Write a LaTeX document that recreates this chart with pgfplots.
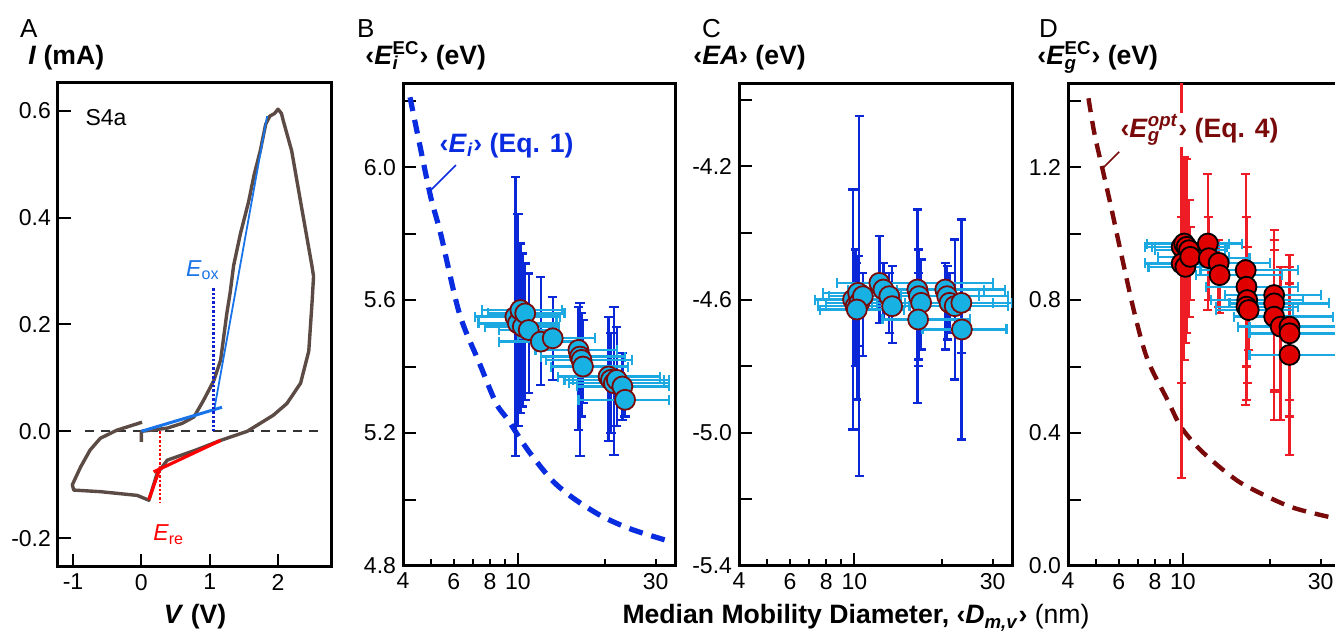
\documentclass[border=0pt]{standalone}
\usepackage{pgfplots}
\pgfplotsset{compat=1.18}
\usepackage{pgfplotstable}
\usepackage{fontspec}
\setmainfont{Liberation Sans}

\definecolor{cvbrown}{HTML}{5C4A44}
\definecolor{tanblue}{HTML}{1874E8}
\definecolor{dotblue}{HTML}{1020D0}
\definecolor{eblue}{HTML}{0A28D8}
\definecolor{ecyan}{HTML}{1CA8E0}
\definecolor{mcyan}{HTML}{17B2E3}
\definecolor{mred}{HTML}{E00000}
\definecolor{ered}{HTML}{EE1C24}
\definecolor{dred}{HTML}{7A0A0A}
\definecolor{curveblue}{HTML}{0A2CE0}

\newcommand{\tl}{\fontsize{11.5}{13}\selectfont}
\newcommand{\ttl}{\fontsize{13.3}{15}\selectfont\bfseries}
\newcommand{\supsub}[2]{\rlap{\textsubscript{#2}}\textsuperscript{#1}}

% D = median mobility diameter (nm); xm/xp, ym/yp = error minus/plus
\pgfplotstableread{
x y xm xp ym yp
9.8 5.55 2.7 4.2 0.42 0.42
10.0 5.53 2.7 3.6 0.31 0.33
10.2 5.57 2.7 4.0 0.31 0.20
10.4 5.52 2.7 3.5 0.24 0.22
10.6 5.56 2.7 3.9 0.26 0.15
10.9 5.51 2.3 2.3 0.19 0.17
12.0 5.475 3.4 4.0 0.13 0.195
13.2 5.485 3.2 5.3 0.125 0.125
16.2 5.45 4.7 5.8 0.24 0.13
16.4 5.43 4.4 7.1 0.30 0.16
16.6 5.42 4.1 8.2 0.17 0.14
16.8 5.40 3.8 7.2 0.11 0.14
20.6 5.37 6.8 10.4 0.195 0.18
21.0 5.36 6.5 11.0 0.16 0.14
21.5 5.35 6.5 11.8 0.215 0.23
22.0 5.36 6.5 11.3 0.14 0.16
23.0 5.34 7.0 10.3 0.10 0.10
23.5 5.30 7.3 9.8 0.05 0.06
}\tabB

\pgfplotstableread{
x y xm xp ym yp
9.9 -4.60 2.6 4.1 0.39 0.33
10.1 -4.62 2.6 4.4 0.18 0.17
10.3 -4.58 2.5 5.2 0.16 0.11
10.4 -4.61 2.4 4.6 0.52 0.56
10.7 -4.59 2.5 5.3 0.18 0.07
10.2 -4.63 2.6 4.6 0.27 0.14
12.2 -4.55 3.5 17.8 0.12 0.14
12.6 -4.57 3.1 7.4 0.09 0.08
13.2 -4.59 3.2 8.8 0.11 0.07
13.5 -4.62 2.0 11.5 0.11 0.12
16.5 -4.57 5.5 11.5 0.34 0.24
16.7 -4.59 5.2 10.3 0.19 0.14
17.0 -4.61 5.0 13.0 0.14 0.13
16.6 -4.66 4.1 8.4 0.14 0.14
20.6 -4.57 6.6 12.4 0.18 0.08
20.9 -4.59 6.4 13.1 0.13 0.09
21.3 -4.61 6.3 13.7 0.09 0.09
22.2 -4.62 6.7 11.8 0.22 0.20
23.4 -4.61 6.4 11.6 0.41 0.25
23.5 -4.69 6.3 10.0 0.07 0.07
}\tabC

\pgfplotstableread{
x y xm xp ym yp
9.9 0.96 2.5 4.1 0.695 0.64
10.1 0.97 2.6 4.3 0.35 0.26
10.3 0.96 2.5 3.9 0.26 0.265
10.5 0.95 2.5 3.5 0.20 0.15
9.9 0.91 2.5 3.6 0.36 0.14
10.2 0.90 2.6 3.6 0.23 0.10
10.6 0.93 2.4 3.8 0.13 0.09
12.2 0.97 2.6 3.8 0.20 0.21
12.3 0.926 2.5 4.7 0.126 0.124
13.3 0.912 2.3 6.7 0.132 0.068
13.4 0.875 2.3 8.6 0.115 0.045
16.5 0.89 5.0 8.5 0.406 0.29
16.6 0.84 4.6 8.4 0.34 0.21
16.7 0.80 4.2 9.3 0.25 0.16
16.6 0.78 3.6 8.4 0.18 0.14
16.9 0.77 3.9 7.1 0.12 0.13
20.7 0.815 6.7 9.3 0.375 0.195
20.7 0.79 6.2 11.3 0.26 0.19
20.7 0.75 5.7 12.3 0.226 0.20
21.8 0.72 6.3 12.2 0.28 0.18
23.4 0.72 6.4 11.6 0.22 0.215
23.4 0.70 6.4 11.6 0.25 0.15
23.4 0.635 6.4 11.6 0.301 0.265
}\tabD

\pgfplotsset{
  panel/.style={
    scale only axis, anchor=south west,
    axis line style={line width=1.5pt},
    every tick/.style={black, line width=1pt},
    major tick length=6.5pt, minor tick length=6.5pt,
    tick align=inside, xtick pos=bottom, ytick pos=left,
    tick label style={font=\tl},
    /pgf/number format/assume math mode=true,
    yticklabel style={/pgf/number format/fixed, /pgf/number format/zerofill,
      /pgf/number format/precision=1},
  },
  logpanel/.style={
    panel, width=136pt, height=241pt,
    xmin=4, xmax=35, xminorticks=false,
    xtick={10}, xticklabels={10},
    extra x ticks={4,5,6,7,8,9,20,30},
    extra x tick labels={4,,6,,8,,,30},
    extra x tick style={major tick length=3.5pt},
  },
  ybars/.style={draw=none, forget plot, error bars/.cd, y dir=both, y explicit,
    error mark=|, error bar style={#1, line width=1.2pt},
    error mark options={#1, line width=1.1pt, mark size=2.3pt}},
  xbars/.style={draw=none, forget plot, error bars/.cd, x dir=both, x explicit,
    error mark=|, error bar style={ecyan, line width=1.2pt},
    error mark options={ecyan, line width=1.1pt, mark size=2.5pt}},
}

\begin{document}
\begin{tikzpicture}

% ---------------- A
\begin{axis}[panel, at={(29pt,35pt)}, width=137pt, height=242pt,
  xmin=-1.22, xmax=2.79, ymin=-0.254, ymax=0.652,
  xtick={-1,0,1,2}, ytick={-0.2,0,0.2,0.4,0.6}]
\addplot[black!80, line width=1pt, dash pattern=on 4.5pt off 3.5pt] coordinates {(-0.82,0) (2.6,0)};
\addplot[cvbrown, line width=1.7pt, line join=round] coordinates {
(0.0,-0.02) (0.0,0.0) (0.2,0.003) (0.38,0.006) (0.6,0.015) (0.77,0.027)
(0.91,0.058) (1.0,0.08) (1.06,0.095) (1.16,0.133) (1.25,0.22) (1.3,0.26)
(1.35,0.31) (1.45,0.37) (1.57,0.43) (1.65,0.48) (1.74,0.525) (1.82,0.575)
(1.88,0.59) (1.95,0.595) (2.0,0.603) (2.05,0.595) (2.08,0.58) (2.2,0.525)
(2.33,0.43) (2.5,0.307) (2.52,0.29) (2.5,0.245) (2.45,0.15) (2.33,0.09)
(2.13,0.052) (1.93,0.03) (1.55,0.0) (1.16,-0.017) (0.8,-0.035) (0.38,-0.054)
(0.23,-0.079) (0.11,-0.129) (-0.06,-0.12) (-0.6,-0.113) (-0.99,-0.11)
(-1.01,-0.10) (-0.89,-0.067) (-0.75,-0.035) (-0.6,-0.013) (-0.36,0.002) (0.01,0.017)};
\addplot[tanblue, line width=1.5pt] coordinates {(0,0) (1.18,0.045)};
\addplot[tanblue, line width=0.9pt] coordinates {(1.06,0.036) (1.84,0.59)};
\addplot[dotblue, line width=1.3pt, dash pattern=on 1.2pt off 1pt] coordinates {(1.06,0) (1.06,0.27)};
\addplot[red, line width=1.6pt] coordinates {(0.11,-0.128) (0.28,-0.066)};
\addplot[red, line width=1.6pt] coordinates {(0.18,-0.076) (1.16,-0.017)};
\addplot[red, line width=1.3pt, dash pattern=on 1.2pt off 1pt] coordinates {(0.27,0) (0.27,-0.135)};
\node[anchor=west, font=\tl] at (axis cs:-0.92,0.587) {S4a};
\node[anchor=base, font=\tl, text=tanblue] at (axis cs:0.9,0.29) {\textit{E}\textsubscript{ox}};
\node[anchor=base, font=\tl, text=red] at (axis cs:0.4,-0.205) {\textit{E}\textsubscript{re}};
\end{axis}

% ---------------- B
\begin{semilogxaxis}[logpanel, at={(201.5pt,35.5pt)},
  ymin=4.8, ymax=6.25, ytick={4.8,5.2,5.6,6.0}, minor ytick={5.0,5.4,5.8,6.2}]
\addplot[curveblue, line width=2.6pt, smooth, dash pattern=on 7pt off 4.5pt] coordinates {
(4.23,6.21) (4.49,6.10) (4.99,5.91) (5.40,5.80) (6.27,5.56) (7.36,5.41) (8.40,5.29)
(9.23,5.24) (10.8,5.15) (13.06,5.06) (15.5,5.005) (19.5,4.95) (24.8,4.91) (33.3,4.875)};
\addplot[ybars=eblue] table[x=x, y=y, y error minus=ym, y error plus=yp] {\tabB};
\addplot[xbars] table[x=x, y=y, x error minus=xm, x error plus=xp] {\tabB};
\addplot[only marks, mark=*, mark size=5pt, mark options={fill=mcyan, draw=dred, line width=0.9pt}]
  table[x=x, y=y] {\tabB};
\draw[curveblue, line width=0.8pt] (axis cs:4.99,5.93) -- (axis cs:6.1,6.006);
\node[anchor=base west, font=\ttl, text=curveblue, inner sep=1pt] at (axis cs:5.26,6.045)
  {‹\textit{E}\textsubscript{\textit{i}}› (Eq. 1)};
\end{semilogxaxis}

% ---------------- C
\begin{semilogxaxis}[logpanel, at={(369.5pt,35.5pt)}, width=136.5pt,
  ymin=-5.4, ymax=-3.953, ytick={-5.4,-5.0,-4.6,-4.2}, minor ytick={-5.2,-4.8,-4.4,-4.0}]
\addplot[ybars=eblue] table[x=x, y=y, y error minus=ym, y error plus=yp] {\tabC};
\addplot[xbars] table[x=x, y=y, x error minus=xm, x error plus=xp] {\tabC};
\addplot[only marks, mark=*, mark size=5pt, mark options={fill=mcyan, draw=dred, line width=0.9pt}]
  table[x=x, y=y] {\tabC};
\end{semilogxaxis}

% ---------------- D
\begin{semilogxaxis}[logpanel, at={(534pt,35.5pt)},
  ymin=0, ymax=1.45, ytick={0,0.4,0.8,1.2}, minor ytick={0.2,0.6,1.0,1.4}]
\addplot[dred, line width=2.2pt, smooth, dash pattern=on 7pt off 4.5pt] coordinates {
(4.71,1.407) (4.94,1.30) (5.28,1.19) (5.64,1.08) (6.11,0.94) (6.8,0.76) (7.55,0.62)
(8.85,0.499) (9.84,0.419) (11.5,0.349) (14.25,0.279) (16.7,0.239) (23.6,0.178) (33.7,0.143) (36,0.137)};
\addplot[ybars=ered] table[x=x, y=y, y error minus=ym, y error plus=yp] {\tabD};
\addplot[xbars] table[x=x, y=y, x error minus=xm, x error plus=xp] {\tabD};
\addplot[only marks, mark=*, mark size=5pt, mark options={fill=mred, draw=black, line width=0.9pt}]
  table[x=x, y=y] {\tabD};
\draw[dred, line width=0.8pt] (axis cs:5.28,1.197) -- (axis cs:6.02,1.246);
\node[anchor=base west, font=\ttl, text=dred, fill=white, inner sep=1pt] at (axis cs:5.97,1.29)
  {‹\textit{E}\supsub{\textit{opt}}{\textit{g}}› (Eq. 4)};
\end{semilogxaxis}

% ---------------- labels
\node[anchor=base west, font=\fontsize{13}{15}\selectfont] at (6.5pt,299.5pt) {A};
\node[anchor=base west, font=\fontsize{13}{15}\selectfont] at (175pt,299.5pt) {B};
\node[anchor=base west, font=\fontsize{13}{15}\selectfont] at (347.5pt,299.5pt) {C};
\node[anchor=base west, font=\fontsize{13}{15}\selectfont] at (516pt,299.5pt) {D};
\node[anchor=base west, font=\ttl, inner sep=0pt] at (14pt,286pt) {\textit{I} (mA)};
\node[anchor=base west, font=\ttl, inner sep=0pt] at (182.5pt,286pt) {‹\textit{E}\supsub{EC}{\textit{i}}› (eV)};
\node[anchor=base west, font=\ttl, inner sep=0pt] at (346.5pt,286pt) {‹\textit{EA}› (eV)};
\node[anchor=base west, font=\ttl, inner sep=0pt] at (518.5pt,286pt) {‹\textit{E}\supsub{EC}{\textit{g}}› (eV)};
\node[anchor=base, font=\ttl, inner sep=0pt] at (97.5pt,6.5pt) {\textit{V} (V)};
\node[anchor=base, font=\ttl, inner sep=0pt] at (428pt,6.5pt)
  {Median Mobility Diameter, ‹\textit{D}\textsubscript{\textit{m,v}}› \mdseries(nm)};

\pgfresetboundingbox
\useasboundingbox (0,0) rectangle (667.5pt,318.5pt);
\end{tikzpicture}
\end{document}
